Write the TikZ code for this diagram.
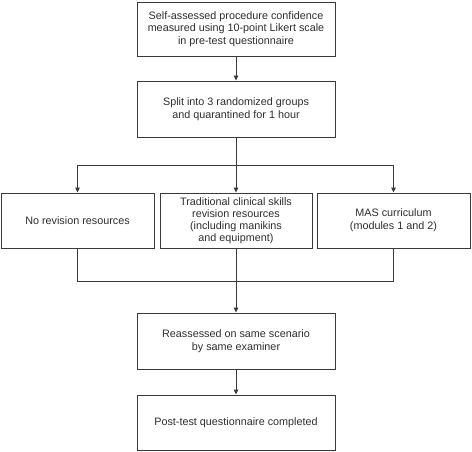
\documentclass[tikz,border=0pt]{standalone}
\usepackage{fontspec}
\setmainfont{Liberation Sans}
\usetikzlibrary{arrows.meta}
\definecolor{linec}{HTML}{3A3A3A}
\definecolor{textc}{HTML}{2E2E2E}
\begin{document}
\begin{tikzpicture}[x=1pt,y=-1pt,
  box/.style={draw=linec,line width=0.9pt,fill=white,align=center,text=textc,
    font=\fontsize{10.8}{12.6}\selectfont,inner sep=0pt,anchor=center},
  wide/.style={box,minimum width=198pt},
  narrow/.style={box,minimum width=153pt},
  conn/.style={draw=linec,line width=0.9pt},
  arr/.style={conn,-{Triangle[length=5pt,width=4.5pt]}}]
\useasboundingbox (0,0) rectangle (472,452);
\node[wide,minimum height=54pt] (b1) at (236,29) {Self-assessed procedure confidence\\measured using 10-point Likert scale\\in pre-test questionnaire};
\node[wide,minimum height=56pt] (b2) at (236,109) {Split into 3 randomized groups\\and quarantined for 1 hour};
\node[narrow,minimum height=55pt] (ba) at (77.5,220.5) {No revision resources};
\node[narrow,minimum height=55pt,minimum width=152pt,font=\fontsize{10.8}{11.9}\selectfont] (bb) at (236,220.5) {Traditional clinical skills\\revision resources\\(including manikins\\and equipment)};
\node[narrow,minimum height=55pt] (bc) at (393.5,220.5) {MAS curriculum\\(modules 1 and 2)};
\node[wide,minimum height=56pt] (b4) at (236,341) {Reassessed on same scenario\\by same examiner};
\node[wide,minimum height=55pt] (b5) at (236,422.5) {Post-test questionnaire completed};
\coordinate (t) at (236,165);
\coordinate (m) at (236,281);
\draw[arr] (b1.south) -- (b2.north);
\draw[conn] (b2.south) -- (t);
\draw[arr] (t) -| (ba.north);
\draw[arr] (t) -| (bc.north);
\draw[arr] (t) -- (bb.north);
\draw[conn] (ba.south) |- (m);
\draw[conn] (bc.south) |- (m);
\draw[arr] (bb.south) -- (b4.north);
\draw[arr] (b4.south) -- (b5.north);
\end{tikzpicture}
\end{document}
